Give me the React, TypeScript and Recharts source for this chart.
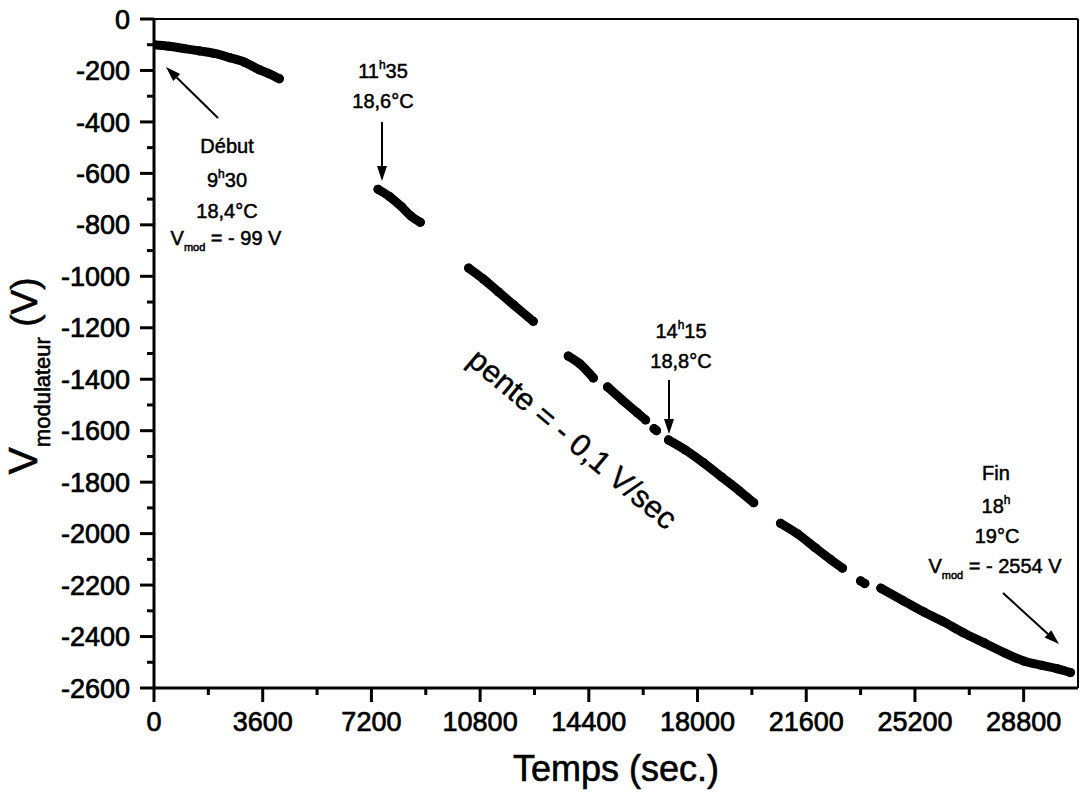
import React from "react";
import { ScatterChart, Scatter, XAxis, YAxis, ReferenceLine } from "recharts";

// ---- data (time in s, voltage in V) ----
const seg1Time = [0, 500, 1000, 1500, 2000, 2500, 3000, 3500, 3800, 4150];
const seg1Volt = [-100, -106, -115, -124, -134, -150, -168, -198, -212, -232];
const seg2Time = [7420, 7800, 8200, 8500, 8820];
const seg2Volt = [-662, -690, -730, -765, -790];
const seg3Time = [10420, 10900, 11400, 11900, 12560];
const seg3Volt = [-968, -1010, -1060, -1110, -1175];
const seg4Time = [13720, 14100, 14550];
const seg4Volt = [-1310, -1340, -1395];
const seg5Time = [15020, 15500, 16000, 16280];
const seg5Volt = [-1430, -1480, -1530, -1558];
const seg6Time = [16560, 16640];
const seg6Volt = [-1592, -1600];
const seg7Time = [17040, 17600, 18200, 18800, 19400, 19860];
const seg7Volt = [-1636, -1675, -1725, -1780, -1835, -1880];
const seg8Time = [20750, 21300, 21900, 22400, 22800];
const seg8Volt = [-1960, -2000, -2055, -2100, -2134];
const seg9Time = [23400, 23540];
const seg9Volt = [-2184, -2194];
const seg10Time = [24070, 24800, 25500, 26100, 26800, 27500, 28200, 28800, 29400, 29900, 30350];
const seg10Volt = [-2212, -2260, -2305, -2340, -2385, -2425, -2465, -2495, -2512, -2525, -2540];

const segments = [
  [seg1Time, seg1Volt], [seg2Time, seg2Volt], [seg3Time, seg3Volt], [seg4Time, seg4Volt],
  [seg5Time, seg5Volt], [seg6Time, seg6Volt], [seg7Time, seg7Volt], [seg8Time, seg8Volt],
  [seg9Time, seg9Volt], [seg10Time, seg10Volt],
];

const xMajorTicks = [0, 3600, 7200, 10800, 14400, 18000, 21600, 25200, 28800];
const xMinorTicks = [1800, 5400, 9000, 12600, 16200, 19800, 23400, 27000];
const yMajorTicks = [0, -200, -400, -600, -800, -1000, -1200, -1400, -1600, -1800, -2000, -2200, -2400, -2600];
const yMinorTicks = [-100, -300, -500, -700, -900, -1100, -1300, -1500, -1700, -1900, -2100, -2300, -2500];

const X_MAX = 30600;
const FONT = "'Liberation Sans', Arial, sans-serif";
const TICK_SIZE = 14;
const TICK_MARGIN = 10;

const xTicks = [...xMajorTicks, ...xMinorTicks].sort((a, b) => a - b);
const yTicks = [...yMajorTicks, ...yMinorTicks].sort((a, b) => b - a);

const bold = { stroke: "#000", strokeWidth: 0.7 };

const XTick = (props: any) => {
  const { x, y, payload } = props;
  const major = xMajorTicks.includes(payload.value);
  const axisY = y - TICK_SIZE - TICK_MARGIN;
  return (
    <g>
      <line x1={x} x2={x} y1={axisY} y2={axisY + (major ? TICK_SIZE : 7)} stroke="#000" strokeWidth={3} />
      {major && (
        <text x={x} y={y} dy="0.71em" textAnchor="middle" fontSize={27} fontFamily={FONT} fill="#000" {...bold}>
          {payload.value}
        </text>
      )}
    </g>
  );
};

const YTick = (props: any) => {
  const { x, y, payload } = props;
  const major = yMajorTicks.includes(payload.value);
  const axisX = x + TICK_SIZE + TICK_MARGIN;
  return (
    <g>
      <line x1={axisX} x2={axisX - (major ? TICK_SIZE : 7)} y1={y} y2={y} stroke="#000" strokeWidth={3} />
      {major && (
        <text x={x} y={y} dy="0.355em" textAnchor="end" fontSize={27} fontFamily={FONT} fill="#000" {...bold}>
          {payload.value}
        </text>
      )}
    </g>
  );
};

const Dot = (props: any) => {
  const { cx, cy } = props;
  return <circle cx={cx} cy={cy} r={4.6} fill="#000" />;
};

const Arrow = ({ x1, y1, x2, y2 }: { x1: number; y1: number; x2: number; y2: number }) => {
  const ang = Math.atan2(y2 - y1, x2 - x1);
  const len = 15;
  const half = 5;
  const bx = x2 - len * Math.cos(ang);
  const by = y2 - len * Math.sin(ang);
  const px = -Math.sin(ang) * half;
  const py = Math.cos(ang) * half;
  return (
    <g>
      <line x1={x1} y1={y1} x2={bx} y2={by} stroke="#000" strokeWidth={2} />
      <polygon points={`${x2},${y2} ${bx + px},${by + py} ${bx - px},${by - py}`} fill="#000" />
    </g>
  );
};

const ann = { fontFamily: FONT, fontSize: 20, fill: "#000", textAnchor: "middle" as const, stroke: "#000", strokeWidth: 0.5 };

export default function App() {
  return (
    <div style={{ position: "absolute", left: 0, top: 0, width: 1080, height: 794, background: "#fff" }}>
      <ScatterChart width={1080} height={794} margin={{ top: 19, right: 2, bottom: 46, left: 54 }}>
        <XAxis
          type="number"
          dataKey="t"
          domain={[0, X_MAX]}
          ticks={xTicks}
          interval={0}
          allowDataOverflow
          height={60}
          axisLine={{ stroke: "#000", strokeWidth: 3 }}
          tickLine={false}
          tickSize={TICK_SIZE}
          tickMargin={TICK_MARGIN}
          tick={<XTick />}
        />
        <YAxis
          type="number"
          dataKey="v"
          domain={[-2600, 0]}
          ticks={yTicks}
          interval={0}
          allowDataOverflow
          width={100}
          axisLine={{ stroke: "#000", strokeWidth: 3 }}
          tickLine={false}
          tickSize={TICK_SIZE}
          tickMargin={TICK_MARGIN}
          tick={<YTick />}
        />
        <ReferenceLine y={0} stroke="#000" strokeWidth={2} />
        <ReferenceLine x={X_MAX} stroke="#000" strokeWidth={2} />
        {segments.map(([ts, vs], i) => (
          <Scatter
            key={i}
            data={ts.map((t, j) => ({ t, v: vs[j] }))}
            fill="#000"
            line={{ stroke: "#000", strokeWidth: 9, strokeLinecap: "round", strokeLinejoin: "round" }}
            lineJointType="monotoneX"
            shape={<Dot />}
            isAnimationActive={false}
          />
        ))}
      </ScatterChart>
      <svg width={1080} height={794} style={{ position: "absolute", left: 0, top: 0, pointerEvents: "none" }}>
        {/* axis titles */}
        <text transform="translate(37, 376) rotate(-90)" textAnchor="middle" fontFamily={FONT} fill="#000" stroke="#000" strokeWidth={0.6}>
          <tspan fontSize={41}>V</tspan>
          <tspan fontSize={22} dy={13}>modulateur</tspan>
          <tspan fontSize={37} dy={-13}> (V)</tspan>
        </text>
        <text x={616} y={781} textAnchor="middle" fontFamily={FONT} fontSize={36} fill="#000" stroke="#000" strokeWidth={0.6}>
          Temps (sec.)
        </text>

        {/* Début */}
        <Arrow x1={218} y1={118} x2={166} y2={67} />
        <text {...ann} x={227} y={153}>Début</text>
        <text {...ann} x={227} y={187}>
          9<tspan fontSize={12} dy={-9}>h</tspan><tspan dy={9}>30</tspan>
        </text>
        <text {...ann} x={227} y={218}>18,4°C</text>
        <text {...ann} x={226} y={245}>
          V<tspan fontSize={11} dy={6}>mod</tspan><tspan dy={-6}> = - 99 V</tspan>
        </text>

        {/* 11h35 */}
        <text {...ann} x={383} y={78}>
          11<tspan fontSize={12} dy={-9}>h</tspan><tspan dy={9}>35</tspan>
        </text>
        <text {...ann} x={383} y={108}>18,6°C</text>
        <Arrow x1={382} y1={122} x2={382} y2={181} />

        {/* 14h15 */}
        <text {...ann} x={681} y={338}>
          14<tspan fontSize={12} dy={-9}>h</tspan><tspan dy={9}>15</tspan>
        </text>
        <text {...ann} x={681} y={368}>18,8°C</text>
        <Arrow x1={669} y1={380} x2={669} y2={434} />

        {/* slope */}
        <text transform="translate(566, 447) rotate(40)" textAnchor="middle" fontFamily={FONT} fontSize={31} fill="#000" stroke="#000" strokeWidth={0.4}>
          pente = - 0,1 V/sec
        </text>

        {/* Fin */}
        <text {...ann} x={996} y={480}>Fin</text>
        <text {...ann} x={996} y={513}>
          18<tspan fontSize={12} dy={-9}>h</tspan>
        </text>
        <text {...ann} x={997} y={543}>19°C</text>
        <text {...ann} x={995} y={573}>
          V<tspan fontSize={11} dy={6}>mod</tspan><tspan dy={-6}> = - 2554 V</tspan>
        </text>
        <Arrow x1={1003} y1={593} x2={1059} y2={644} />
      </svg>
    </div>
  );
}
